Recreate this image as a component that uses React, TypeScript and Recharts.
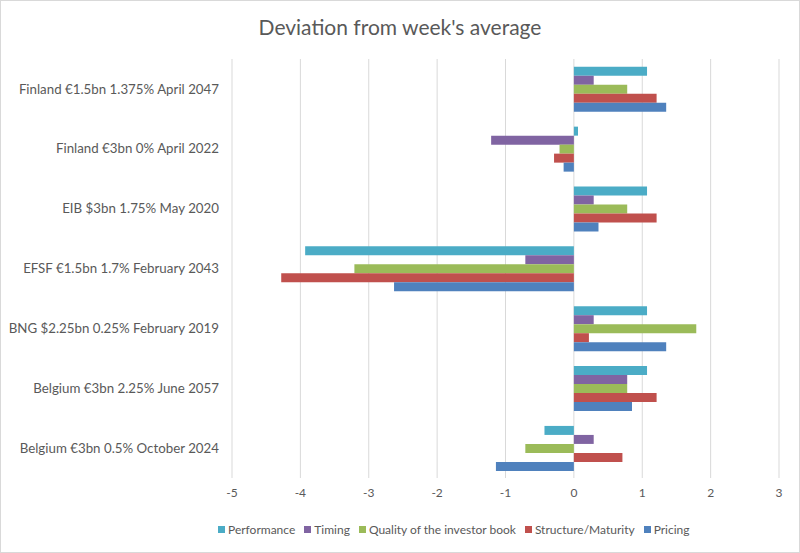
import { BarChart, Bar, XAxis, YAxis, CartesianGrid } from 'recharts';

const bonds = [
  'Finland €1.5bn 1.375% April 2047',
  'Finland €3bn 0% April 2022',
  'EIB $3bn 1.75% May 2020',
  'EFSF €1.5bn 1.7% February 2043',
  'BNG $2.25bn 0.25% February 2019',
  'Belgium €3bn 2.25% June 2057',
  'Belgium €3bn 0.5% October 2024',
];

const performance = [1.07, 0.06, 1.07, -3.93, 1.07, 1.07, -0.43];
const timing = [0.29, -1.21, 0.29, -0.71, 0.29, 0.78, 0.29];
const quality = [0.78, -0.21, 0.78, -3.21, 1.79, 0.78, -0.71];
const structure = [1.21, -0.29, 1.21, -4.28, 0.22, 1.21, 0.71];
const pricing = [1.35, -0.15, 0.36, -2.63, 1.35, 0.85, -1.14];

const xTicks = [-5, -4, -3, -2, -1, 0, 1, 2, 3];

const series = [
  { key: 'performance', name: 'Performance', color: '#4BACC6' },
  { key: 'timing', name: 'Timing', color: '#8064A2' },
  { key: 'quality', name: 'Quality of the investor book', color: '#9BBB59' },
  { key: 'structure', name: 'Structure/Maturity', color: '#C0504D' },
  { key: 'pricing', name: 'Pricing', color: '#4F81BD' },
];

const data = bonds.map((bond, i) => ({
  bond,
  performance: performance[i],
  timing: timing[i],
  quality: quality[i],
  structure: structure[i],
  pricing: pricing[i],
}));

const font = 'Lato, "Open Sans", sans-serif';
const textColor = '#595959';

// plain one-line tick so long bond names don't wrap
const BondTick = ({ x, y, payload }: any) => (
  <text x={x} y={y} dy="0.35em" textAnchor="end" fill={textColor} fontSize={13.3} fontFamily={font}>
    {payload.value}
  </text>
);

export default function App() {
  return (
    <div
      style={{
        position: 'absolute',
        left: 0,
        top: 0,
        width: 800,
        height: 553,
        background: '#fff',
        boxSizing: 'border-box',
        border: '1px solid #d9d9d9',
        fontFamily: font,
      }}
    >
      <div
        style={{
          position: 'absolute',
          top: 13,
          width: '100%',
          textAlign: 'center',
          fontSize: 21,
          color: textColor,
        }}
      >
        Deviation from week's average
      </div>
      <div style={{ position: 'absolute', left: -1, top: -1 }}>
        <BarChart
          width={800}
          height={553}
          data={data}
          layout="vertical"
          margin={{ top: 59, right: 21, bottom: 45, left: 0 }}
          barCategoryGap="13%"
          barGap={0}
        >
          <CartesianGrid horizontal={false} stroke="#d9d9d9" />
          <XAxis
            type="number"
            domain={[-5, 3]}
            ticks={xTicks}
            axisLine={false}
            tickLine={false}
            tickSize={0}
            tickMargin={10}
            height={30}
            tick={{ fill: textColor, fontSize: 12, fontFamily: font }}
          />
          <YAxis
            type="category"
            dataKey="bond"
            width={232}
            axisLine={false}
            tickLine={false}
            tickSize={0}
            tickMargin={13}
            tick={<BondTick />}
          />
          {series.map((s) => (
            <Bar key={s.key} dataKey={s.key} name={s.name} fill={s.color} isAnimationActive={false} />
          ))}
        </BarChart>
      </div>
      <div
        style={{
          position: 'absolute',
          top: 521,
          left: 217,
          display: 'flex',
          gap: 9,
          fontSize: 12,
          color: textColor,
          whiteSpace: 'nowrap',
        }}
      >
        {series.map((s) => (
          <span key={s.key} style={{ display: 'flex', alignItems: 'center', gap: 3 }}>
            <span style={{ width: 7, height: 7, background: s.color, display: 'inline-block' }} />
            {s.name}
          </span>
        ))}
      </div>
    </div>
  );
}
